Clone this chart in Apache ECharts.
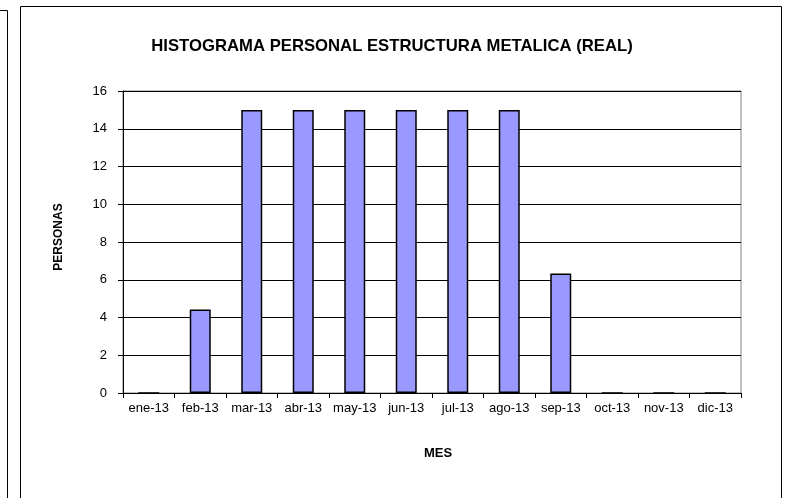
<!DOCTYPE html>
<html><head><meta charset="utf-8">
<script src="https://cdn.jsdelivr.net/npm/echarts@6/dist/echarts.min.js"></script>
<style>html,body{margin:0;padding:0;background:#fff}#c{width:789px;height:498px}</style>
</head><body><div id="c"></div>
<script>
const categories = ['ene-13','feb-13','mar-13','abr-13','may-13','jun-13','jul-13','ago-13','sep-13','oct-13','nov-13','dic-13'];
const personas = [0, 4.42, 15, 15, 15, 15, 15, 15, 6.33, 0, 0, 0];
const titleText = 'HISTOGRAMA PERSONAL ESTRUCTURA METALICA (REAL)';
const yName = 'PERSONAS';
const xName = 'MES';

const chart = echarts.init(document.getElementById('c'), null, {renderer:'canvas'});
const font = 'Liberation Sans, Arial, sans-serif';
chart.setOption({
  animation: false,
  backgroundColor: '#fff',
  title: {
    text: titleText, left: 392, top: 33, textAlign: 'center',
    textStyle: {fontFamily: font, fontSize: 16.7, fontWeight: 'bold', color: '#000'},
    padding: [5, 10, 5, 0]
  },
  graphic: [
    {type:'rect', shape:{x:20.5, y:6.5, width:761, height:500}, style:{fill:'none', stroke:'#000', lineWidth:1}, silent:true, z:-1},
    {type:'polyline', shape:{points:[[0,10.5],[7.5,10.5],[7.5,498]]}, style:{fill:'none', stroke:'#000', lineWidth:1}, silent:true}
  ],
  grid: {left: 123, right: 48, top: 91, bottom: 105, show: true, borderColor: '#808080', borderWidth: 1, backgroundColor: '#fff'},
  xAxis: {
    type: 'category', data: categories,
    name: xName, nameLocation: 'middle', nameGap: 54,
    nameTextStyle: {fontFamily: font, fontSize: 13, fontWeight: 'bold', color: '#000', padding:[0,0,0,12]},
    axisLine: {lineStyle: {color: '#000', width: 1}},
    axisTick: {show: true, alignWithLabel: false, length: 5, lineStyle: {color: '#000'}},
    axisLabel: {fontFamily: font, fontSize: 13, color: '#000', margin: 9, interval: 0},
    splitLine: {show: false}
  },
  yAxis: {
    type: 'value', min: 0, max: 16, interval: 2,
    name: yName, nameLocation: 'middle', nameGap: 58, nameRotate: 90,
    nameTextStyle: {fontFamily: font, fontSize: 12, fontWeight: 'bold', color: '#000', padding:[0,0,0,10]},
    axisLine: {show: true, lineStyle: {color: '#000', width: 1}},
    axisTick: {show: true, length: 5, lineStyle: {color: '#000'}},
    axisLabel: {fontFamily: font, fontSize: 13, color: '#000', margin: 16},
    splitLine: {show: true, lineStyle: {color: '#000', width: 1}}
  },
  series: [{
    type: 'bar', data: personas, barWidth: 21,
    itemStyle: {color: '#9999FF', borderColor: '#000', borderWidth: 1.5}
  }]
});
</script></body></html>
